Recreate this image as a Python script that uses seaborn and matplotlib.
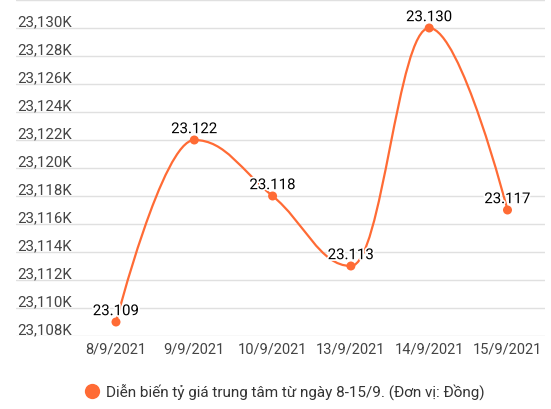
import numpy as np
import pandas as pd
import seaborn as sns
import matplotlib.pyplot as plt
from matplotlib.path import Path
from matplotlib.patches import PathPatch
from matplotlib.lines import Line2D
import matplotlib.patheffects as pe

# tỷ giá trung tâm 8-15/9/2021
ngay = ['8/9/2021', '9/9/2021', '10/9/2021', '13/9/2021', '14/9/2021', '15/9/2021']
ty_gia = [23109, 23122, 23118, 23113, 23130, 23117]
y_ticks = list(range(23108, 23133, 2))
ten_chuoi = 'Diễn biến tỷ giá trung tâm từ ngày 8-15/9. (Đơn vị: Đồng)'

mau = '#ff6b35'

df = pd.DataFrame({'ngay': ngay, 'ty_gia': ty_gia, 'x': range(len(ngay))})

sns.set_theme(style='white')
plt.rcParams['font.family'] = ['Roboto', 'DejaVu Sans']

fig = plt.figure(figsize=(5.51, 4.10), dpi=100)
ax = fig.add_axes([16 / 551, 1 - 337 / 410, (545 - 16) / 551, 336 / 410])


def spline_path(xs, ys, smoothing=1.5):
    # kiểu spline của highcharts
    n = len(xs)
    verts = [(xs[0], ys[0])]
    codes = [Path.MOVETO]
    ctrl = []
    for i in range(n):
        if i == 0 or i == n - 1:
            ctrl.append(((xs[i], ys[i]), (xs[i], ys[i])))
            continue
        d = smoothing + 1
        lx = (smoothing * xs[i] + xs[i - 1]) / d
        ly = (smoothing * ys[i] + ys[i - 1]) / d
        rx = (smoothing * xs[i] + xs[i + 1]) / d
        ry = (smoothing * ys[i] + ys[i + 1]) / d
        if rx != lx:
            corr = (ry - ly) * (rx - xs[i]) / (rx - lx) + ys[i] - ry
            ly += corr
            ry += corr
        if ly > ys[i - 1] and ly > ys[i]:
            ly = max(ys[i - 1], ys[i])
            ry = 2 * ys[i] - ly
        elif ly < ys[i - 1] and ly < ys[i]:
            ly = min(ys[i - 1], ys[i])
            ry = 2 * ys[i] - ly
        if ry > ys[i + 1] and ry > ys[i]:
            ry = max(ys[i + 1], ys[i])
            ly = 2 * ys[i] - ry
        elif ry < ys[i + 1] and ry < ys[i]:
            ry = min(ys[i + 1], ys[i])
            ly = 2 * ys[i] - ry
        ctrl.append(((lx, ly), (rx, ry)))
    for i in range(1, n):
        verts += [ctrl[i - 1][1], ctrl[i][0], (xs[i], ys[i])]
        codes += [Path.CURVE4] * 3
    return Path(verts, codes)


xs = df['x'].astype(float).tolist()
ys = df['ty_gia'].astype(float).tolist()
ax.add_patch(PathPatch(spline_path(xs, ys), fill=False, edgecolor=mau, lw=1.6, zorder=3))

sns.scatterplot(data=df, x='x', y='ty_gia', color=mau, s=42, edgecolor='none',
                zorder=4, ax=ax, legend=False)

for _, r in df.iterrows():
    ax.annotate(f"{r['ty_gia'] / 1000:.3f}", (r['x'], r['ty_gia']),
                xytext=(0, 7.8), textcoords='offset points', ha='center', va='center',
                fontsize=10.8, color='black', zorder=5,
                path_effects=[pe.withStroke(linewidth=2.5, foreground='white')])

ax.set_xlim(-1.277, 5.479)
ax.set_ylim(23108, 23132)
ax.set_xticks(df['x'])
ax.set_xticklabels(ngay, fontsize=10.5, color='#444444')
ax.set_yticks(y_ticks)
ax.set_yticklabels([f'{v:,}K' if v < 23132 else '' for v in y_ticks],
                   fontsize=10.8, color='#444444')
for lb in ax.get_yticklabels():
    lb.set_ha('left')
    lb.set_va('bottom')
ax.tick_params(axis='y', length=0, pad=-1)
ax.tick_params(axis='x', length=0, pad=4)
ax.grid(axis='y', color='#e0e0e0', lw=1)
ax.set_axisbelow(True)
for s in ax.spines.values():
    s.set_visible(False)
ax.set_xlabel('')
ax.set_ylabel('')

handle = Line2D([], [], marker='o', color='none', markerfacecolor=mau,
                markeredgecolor='none', markersize=11)
fig.legend([handle], [ten_chuoi], loc='center', bbox_to_anchor=(284 / 551, 1 - 393 / 410),
           frameon=False, fontsize=11, handletextpad=0.3, handlelength=1.2,
           labelcolor='#333333')

fig.savefig('out.png', dpi=100)
